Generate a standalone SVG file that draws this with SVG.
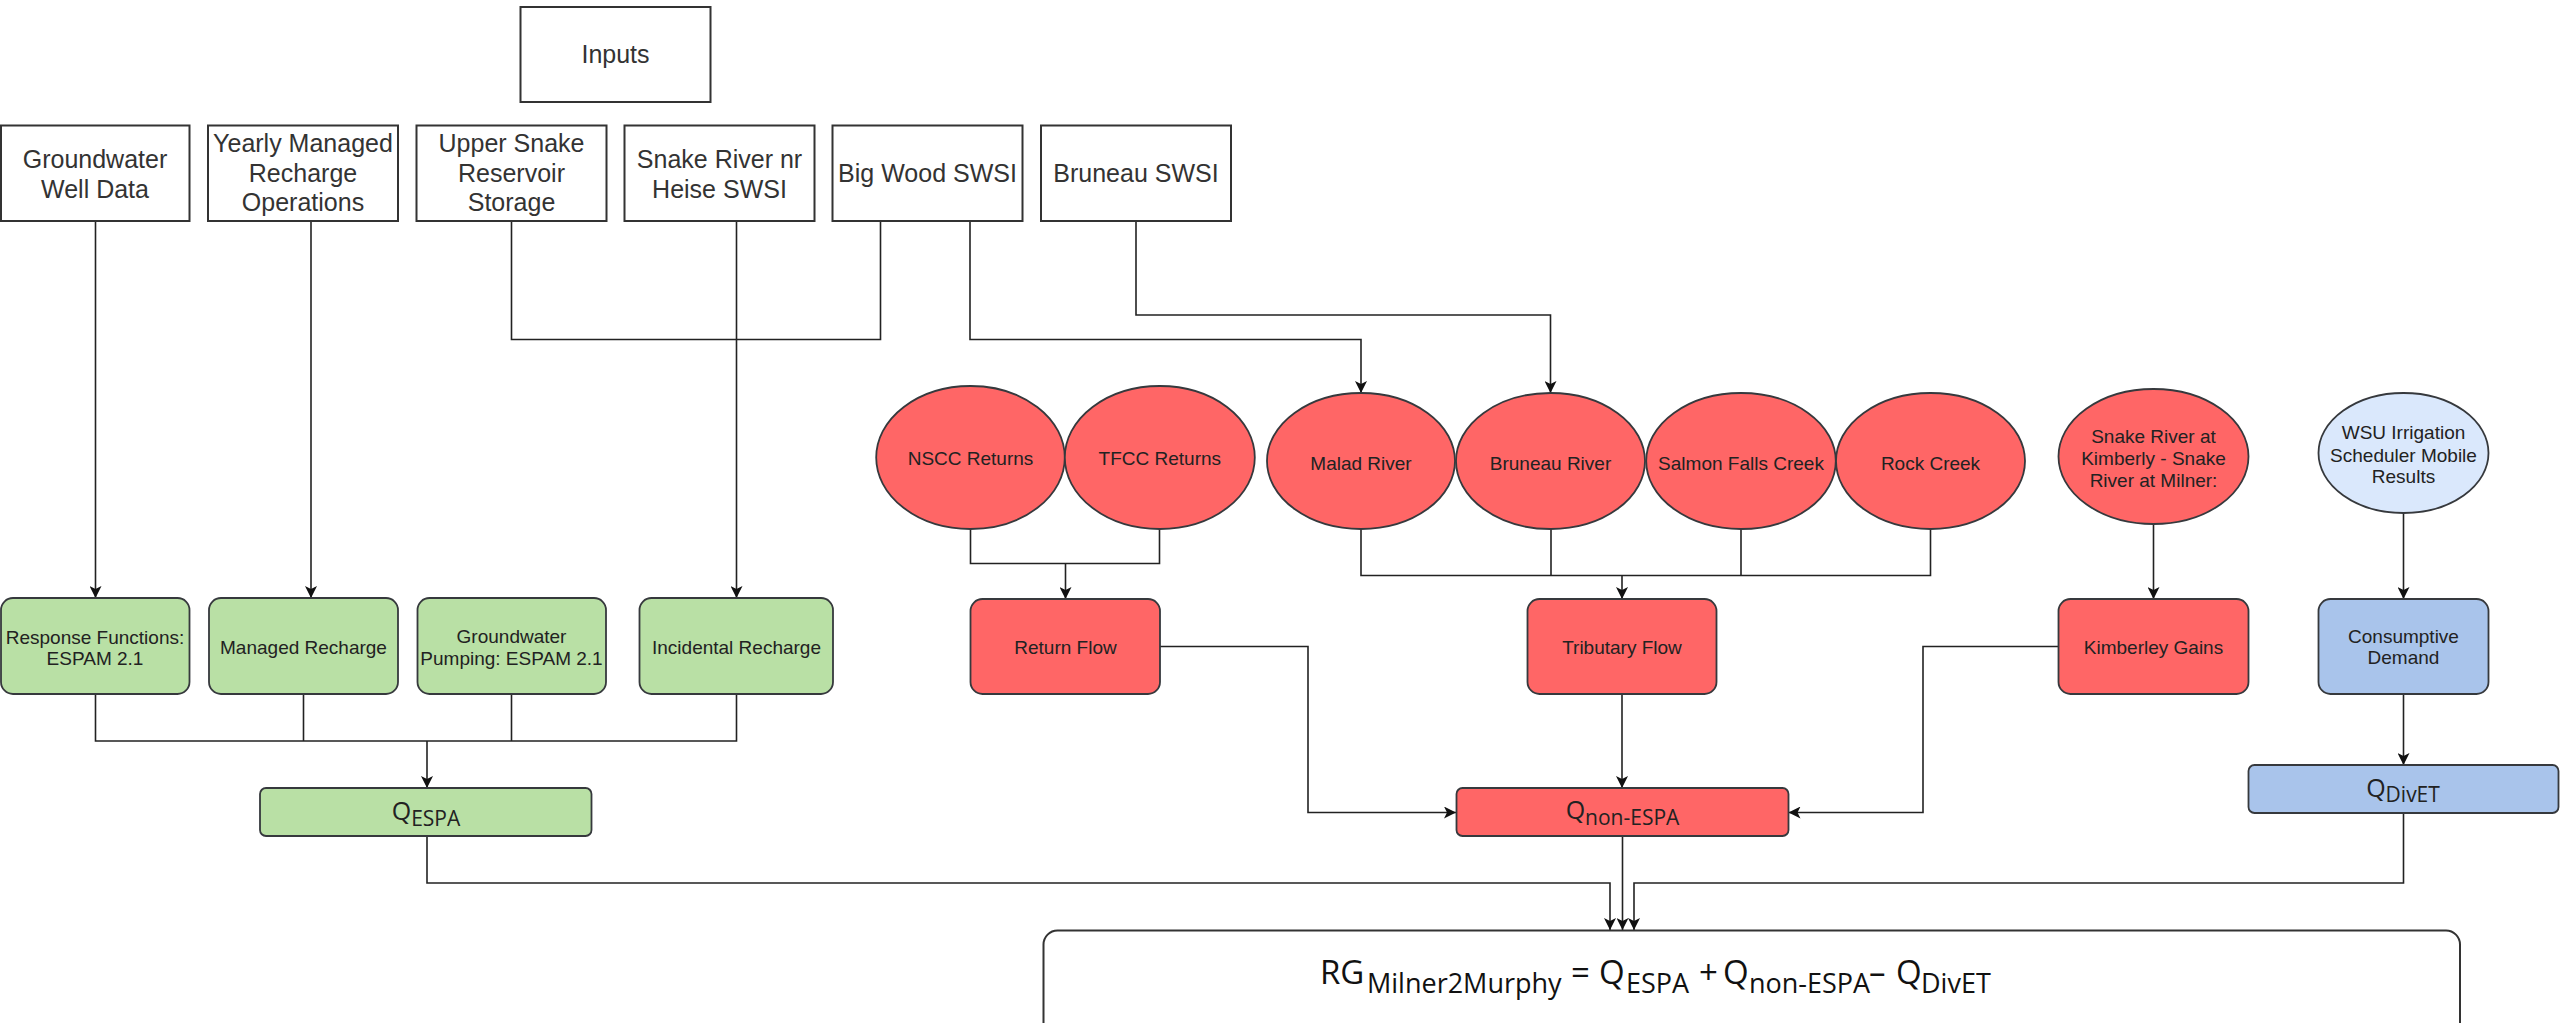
<svg xmlns="http://www.w3.org/2000/svg" width="2560" height="1023" viewBox="0 0 2560 1023">
<style>
.box{fill:#ffffff;stroke:#333333;stroke-width:2}
.g{fill:#b9e0a5;stroke:#36393d;stroke-width:1.8}
.r{fill:#ff6666;stroke:#36393d;stroke-width:1.8}
.b{fill:#a9c4eb;stroke:#36393d;stroke-width:1.8}
.lb{fill:#dae8fc;stroke:#36393d;stroke-width:1.8}
.t{font-family:"Liberation Sans",Arial,sans-serif;font-size:25px;fill:#333333;text-anchor:middle}
.s{font-family:"Liberation Sans",Arial,sans-serif;font-size:19px;fill:#222222;text-anchor:middle}
.q{font-family:"Open Sans","Liberation Sans",sans-serif;font-size:25px;fill:#222222;text-anchor:middle}
.f{font-family:"Open Sans","Liberation Sans",sans-serif;fill:#111111}
.m{font-size:33px}
.u{font-size:27px}
.c{fill:none;stroke:#222222;stroke-width:1.6}
.a{marker-end:url(#arr)}
</style>
<defs>
<marker id="arr" markerUnits="userSpaceOnUse" markerWidth="12" markerHeight="12" refX="12" refY="6" orient="auto">
<path d="M0,0 L12,6 L0,12 L3,6 Z" fill="#111111"/>
</marker>
</defs>
<rect width="2560" height="1023" fill="#ffffff"/>

<g id="connectors">
<path class="c a" d="M95.5,221 V598"/>
<path class="c a" d="M311,221 V598"/>
<path class="c" d="M511.5,221 V339.5 H880.5 V221"/>
<path class="c a" d="M736.5,221 V598"/>
<path class="c a" d="M970,221 V339.5 H1361 V393"/>
<path class="c a" d="M1136,221 V315 H1550.5 V393"/>
<path class="c" d="M970.5,529 V563.5 H1159.5 V529"/>
<path class="c a" d="M1065.5,563.5 V599"/>
<path class="c" d="M1361,529 V575.5 H1930.5 V529 M1551,529 V575.5 M1741,529 V575.5"/>
<path class="c a" d="M1622,575.5 V599"/>
<path class="c a" d="M2153.5,524 V599"/>
<path class="c a" d="M2403.5,513 V599"/>
<path class="c a" d="M2403.5,694 V765"/>
<path class="c a" d="M1160,646.5 H1308 V812.5 H1456"/>
<path class="c a" d="M1622,694 V788"/>
<path class="c a" d="M2058.5,646.5 H1923 V812.5 H1788.5"/>
<path class="c" d="M95.5,694 V741 H736.5 V694 M303.5,694 V741 M511.5,694 V741"/>
<path class="c a" d="M427,741 V788"/>
<path class="c a" d="M427,836 V883 H1610 V930"/>
<path class="c a" d="M1622.5,836 V930"/>
<path class="c a" d="M2403.5,813 V883 H1634 V930"/>
</g>

<g id="inputs"><rect class="box" x="520.5" y="7" width="190" height="95"/><text class="t" x="615.5" y="63" font-size="27">Inputs</text></g>

<g id="groundwater-well-data"><rect class="box" x="1" y="125.5" width="188.5" height="95.5"/><text class="t" x="95" y="168">Groundwater</text><text class="t" x="95" y="198">Well Data</text></g>
<g id="yearly-managed-recharge"><rect class="box" x="208" y="125.5" width="190" height="95.5"/><text class="t" x="303" y="152">Yearly Managed</text><text class="t" x="303" y="182">Recharge</text><text class="t" x="303" y="211">Operations</text></g>
<g id="upper-snake-storage"><rect class="box" x="416.5" y="125.5" width="190" height="95.5"/><text class="t" x="511.5" y="152">Upper Snake</text><text class="t" x="511.5" y="182">Reservoir</text><text class="t" x="511.5" y="211">Storage</text></g>
<g id="snake-river-heise"><rect class="box" x="624.5" y="125.5" width="190" height="95.5"/><text class="t" x="719.5" y="168">Snake River nr</text><text class="t" x="719.5" y="198">Heise SWSI</text></g>
<g id="big-wood-swsi"><rect class="box" x="832.5" y="125.5" width="190" height="95.5"/><text class="t" x="927.5" y="182">Big Wood SWSI</text></g>
<g id="bruneau-swsi"><rect class="box" x="1041" y="125.5" width="190" height="95.5"/><text class="t" x="1136" y="182">Bruneau SWSI</text></g>

<g id="response-functions"><rect class="g" x="1" y="598" width="188.5" height="96" rx="12"/><text class="s" x="95" y="643.5" font-size="19.5">Response Functions:</text><text class="s" x="95" y="665" font-size="19.5">ESPAM 2.1</text></g>
<g id="managed-recharge"><rect class="g" x="209" y="598" width="189" height="96" rx="12"/><text class="s" x="303.5" y="653.5">Managed Recharge</text></g>
<g id="groundwater-pumping"><rect class="g" x="417.5" y="598" width="188.5" height="96" rx="12"/><text class="s" x="511.5" y="643">Groundwater</text><text class="s" x="511.5" y="665">Pumping: ESPAM 2.1</text></g>
<g id="incidental-recharge"><rect class="g" x="639.5" y="598" width="193.5" height="96" rx="12"/><text class="s" x="736.5" y="653.5">Incidental Recharge</text></g>
<g id="q-espa"><rect class="g" x="260" y="788" width="331.5" height="48" rx="6"/><text class="q" x="426" y="820">Q<tspan font-size="21" dy="6">ESPA</tspan></text></g>

<g id="nscc-returns"><ellipse class="r" cx="970.5" cy="457.5" rx="94.3" ry="71.5"/><text class="s" x="970.5" y="465">NSCC Returns</text></g>
<g id="tfcc-returns"><ellipse class="r" cx="1159.8" cy="457.5" rx="95" ry="71.5"/><text class="s" x="1159.8" y="465">TFCC Returns</text></g>
<g id="malad-river"><ellipse class="r" cx="1361" cy="461" rx="94" ry="68"/><text class="s" x="1361" y="469.5">Malad River</text></g>
<g id="bruneau-river"><ellipse class="r" cx="1550.5" cy="461" rx="94.5" ry="68"/><text class="s" x="1550.5" y="469.5">Bruneau River</text></g>
<g id="salmon-falls-creek"><ellipse class="r" cx="1741" cy="461" rx="94.8" ry="68"/><text class="s" x="1741" y="469.5">Salmon Falls Creek</text></g>
<g id="rock-creek"><ellipse class="r" cx="1930.5" cy="461" rx="94.5" ry="68"/><text class="s" x="1930.5" y="469.5">Rock Creek</text></g>
<g id="snake-river-kimberly-milner"><ellipse class="r" cx="2153.5" cy="456.5" rx="95" ry="67.5"/><text class="s" x="2153.5" y="442.5">Snake River at</text><text class="s" x="2153.5" y="464.5">Kimberly - Snake</text><text class="s" x="2153.5" y="486.5">River at Milner:</text></g>
<g id="wsu-irrigation-scheduler"><ellipse class="lb" cx="2403.5" cy="453" rx="85" ry="60"/><text class="s" x="2403.5" y="439">WSU Irrigation</text><text class="s" x="2403.5" y="461.5">Scheduler Mobile</text><text class="s" x="2403.5" y="483">Results</text></g>

<g id="return-flow"><rect class="r" x="970.5" y="599" width="189.5" height="95" rx="12"/><text class="s" x="1065.5" y="653.5">Return Flow</text></g>
<g id="tributary-flow"><rect class="r" x="1527.5" y="599" width="189" height="95" rx="12"/><text class="s" x="1622" y="653.5">Tributary Flow</text></g>
<g id="kimberley-gains"><rect class="r" x="2058.5" y="599" width="190" height="95" rx="12"/><text class="s" x="2153.5" y="653.5">Kimberley Gains</text></g>
<g id="q-non-espa"><rect class="r" x="1456.5" y="788" width="332" height="48" rx="6"/><text class="q" x="1622.5" y="819">Q<tspan font-size="21" dy="6">non-ESPA</tspan></text></g>

<g id="consumptive-demand"><rect class="b" x="2318.5" y="599" width="170" height="95" rx="12"/><text class="s" x="2403.5" y="643">Consumptive</text><text class="s" x="2403.5" y="664">Demand</text></g>
<g id="q-divet"><rect class="b" x="2248.5" y="765" width="310" height="48" rx="6"/><text class="q" x="2403" y="797">Q<tspan font-size="21" dy="5">DivET</tspan></text></g>

<g id="rg-equation"><rect class="box" x="1043.5" y="930.5" width="1416.5" height="120" rx="14" stroke-width="1.6"/>
<text class="f"><tspan class="m" x="1320" y="984">RG</tspan><tspan class="u" x="1367" y="993">Milner2Murphy </tspan><tspan class="m" x="1571" y="984">= </tspan><tspan class="m" x="1599" y="984">Q</tspan><tspan class="u" x="1626" y="993">ESPA </tspan><tspan class="m" x="1699" y="984">+</tspan><tspan class="m" x="1723" y="984">Q</tspan><tspan class="u" x="1749" y="993" font-size="26">non-ESPA</tspan><tspan class="m" x="1869" y="984">– </tspan><tspan class="m" x="1896" y="984">Q</tspan><tspan class="u" x="1921" y="993">DivET</tspan></text>
</g>
</svg>
